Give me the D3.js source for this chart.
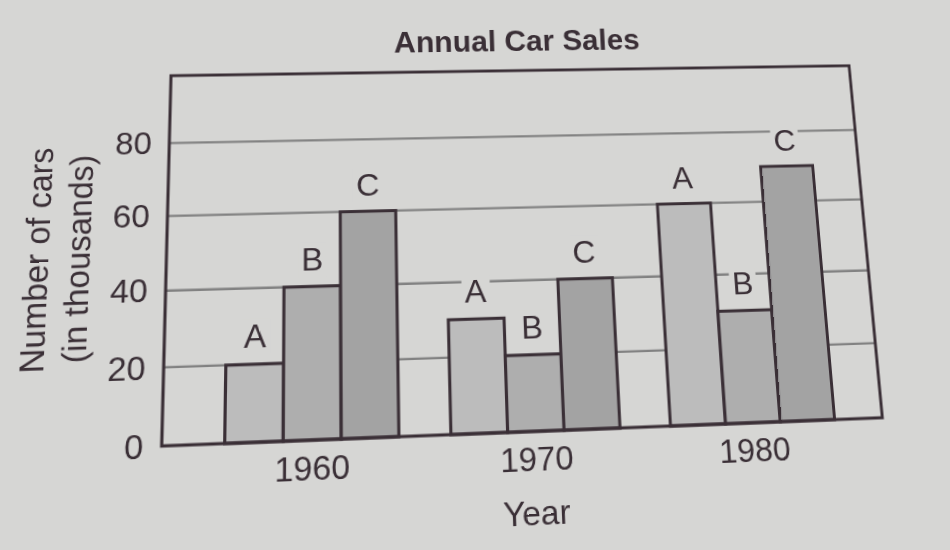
<!DOCTYPE html>
<html><head><meta charset="utf-8">
<script src="https://cdn.jsdelivr.net/npm/d3@7"></script>
<style>
html,body{margin:0;padding:0;background:#d6d6d4;width:950px;height:550px;overflow:hidden;}
#chart{position:absolute;left:0;top:0;transform-origin:0 0;}
</style></head><body>
<svg id="chart" width="950" height="550"></svg>
<script>
// ---- data ----
const years = ["1960", "1970", "1980"];
const seriesNames = ["A", "B", "C"];
const valuesA = [20, 30, 60];
const valuesB = [40, 20, 30];
const valuesC = [60, 40, 70];
const yTickValues = [0, 20, 40, 60, 80];
const gridValues = [20, 40, 60, 80];
const titleText = "Annual Car Sales";
const yLabelLine1 = "Number of cars";
const yLabelLine2 = "(in thousands)";
const xLabelText = "Year";

// ---- styles ----
const paper = "#d6d6d4";
const ink = "#3a2f36";
const barColors = {A: "#bcbcbc", B: "#aeaeae", C: "#a3a3a3"};
const font = "'Liberation Sans', Arial, Helvetica, sans-serif";

const frame = {left: 165, right: 865, top: 70, bottom: 432};

const svg = d3.select("#chart");
svg.append("rect").attr("x", -50).attr("y", -50).attr("width", 1050).attr("height", 650).attr("fill", paper);

const x0 = d3.scaleBand().domain(years)
  .range([frame.left + 58.5, frame.right - 48.5])
  .paddingInner(0.2326).paddingOuter(0);
const x1 = d3.scaleBand().domain(seriesNames).range([0, x0.bandwidth()]).padding(0);
const y = d3.scaleLinear().domain([0, 99]).range([frame.bottom, frame.top]);

const table = years.map((yr, i) => ({
  year: yr,
  bars: [
    {s: "A", v: valuesA[i]},
    {s: "B", v: valuesB[i]},
    {s: "C", v: valuesC[i]}
  ]
}));

// gridlines
svg.append("g").selectAll("line").data(gridValues).join("line")
  .attr("x1", frame.left).attr("x2", frame.right)
  .attr("y1", d => y(d)).attr("y2", d => y(d))
  .attr("stroke", "#828282").attr("stroke-width", 2.3);

// groups
const groups = svg.append("g").selectAll("g").data(table).join("g")
  .attr("transform", d => `translate(${x0(d.year)},0)`);

// bar labels with knockout
const labelG = groups.selectAll("g.lab").data(d => d.bars).join("g").attr("class", "lab");
labelG.append("rect").attr("class", "ko").attr("fill", paper);
labelG.append("text")
  .attr("x", d => x1(d.s) + x1.bandwidth() / 2)
  .attr("y", d => y(d.v) - 16)
  .attr("text-anchor", "middle")
  .attr("font-family", font).attr("font-size", 32).attr("fill", ink)
  .text(d => d.s);
labelG.each(function() {
  const t = d3.select(this).select("text").node().getBBox();
  d3.select(this).select("rect")
    .attr("x", t.x - 3).attr("y", t.y + 2).attr("width", t.width + 6).attr("height", t.height - 2);
});

// bars
groups.selectAll("rect.bar").data(d => d.bars).join("rect").attr("class", "bar")
  .attr("x", d => x1(d.s))
  .attr("y", d => y(d.v))
  .attr("width", x1.bandwidth())
  .attr("height", d => y(0) - y(d.v))
  .attr("fill", d => barColors[d.s])
  .attr("stroke", ink).attr("stroke-width", 3);

// frame
svg.append("rect")
  .attr("x", frame.left).attr("y", frame.top)
  .attr("width", frame.right - frame.left).attr("height", frame.bottom - frame.top)
  .attr("fill", "none").attr("stroke", ink).attr("stroke-width", 3);

// y axis tick labels
const yAxis = svg.append("g").attr("transform", `translate(${frame.left},0)`)
  .call(d3.axisLeft(y).tickValues(yTickValues).tickSize(0).tickPadding(17).tickFormat(d3.format("d")));
yAxis.select(".domain").remove();
yAxis.selectAll("text").attr("font-family", font).attr("font-size", 32).attr("fill", ink);

// x axis tick labels
const xAxis = svg.append("g").attr("transform", `translate(0,${frame.bottom})`)
  .call(d3.axisBottom(x0).tickSize(0).tickPadding(14));
xAxis.select(".domain").remove();
xAxis.selectAll("text").attr("font-family", font).attr("font-size", 32).attr("fill", ink);

// title
svg.append("text").attr("x", 516).attr("y", frame.top - 21)
  .attr("text-anchor", "middle").attr("font-family", font).attr("font-weight", "bold")
  .attr("font-size", 31).attr("fill", ink).text(titleText);

// axis titles
const midY = (frame.top + frame.bottom) / 2;
svg.append("text").attr("transform", `translate(${frame.left - 112},${midY}) rotate(-90)`)
  .attr("text-anchor", "middle").attr("font-family", font).attr("font-size", 32).attr("fill", ink)
  .text(yLabelLine1);
svg.append("text").attr("transform", `translate(${frame.left - 73},${midY}) rotate(-90)`)
  .attr("text-anchor", "middle").attr("font-family", font).attr("font-size", 32).attr("fill", ink)
  .text(yLabelLine2);
svg.append("text").attr("x", x0("1970") + x0.bandwidth() / 2 - 2).attr("y", frame.bottom + 87)
  .attr("text-anchor", "middle").attr("font-family", font).attr("font-size", 32).attr("fill", ink)
  .text(xLabelText);

// ---- photo perspective: map the flat frame corners onto the photographed ones ----
const flatCorners = [[frame.left, frame.top], [frame.right, frame.top], [frame.right, frame.bottom], [frame.left, frame.bottom]];
const photoCorners = [[171, 75.7], [849, 65.7], [882.3, 417.7], [161.7, 446]];
function homography(src, dst) {
  const A = [], b = [];
  for (let i = 0; i < 4; i++) {
    const [px, py] = src[i], [u, v] = dst[i];
    A.push([px, py, 1, 0, 0, 0, -u * px, -u * py]); b.push(u);
    A.push([0, 0, 0, px, py, 1, -v * px, -v * py]); b.push(v);
  }
  const n = 8;
  for (let i = 0; i < n; i++) {
    let p = i;
    for (let r = i + 1; r < n; r++) if (Math.abs(A[r][i]) > Math.abs(A[p][i])) p = r;
    [A[i], A[p]] = [A[p], A[i]]; [b[i], b[p]] = [b[p], b[i]];
    for (let r = i + 1; r < n; r++) {
      const f = A[r][i] / A[i][i];
      for (let c = i; c < n; c++) A[r][c] -= f * A[i][c];
      b[r] -= f * b[i];
    }
  }
  const h = new Array(n);
  for (let i = n - 1; i >= 0; i--) {
    let s = b[i];
    for (let c = i + 1; c < n; c++) s -= A[i][c] * h[c];
    h[i] = s / A[i][i];
  }
  return h;
}
const H = homography(flatCorners, photoCorners);
const m3d = [H[0], H[3], 0, H[6], H[1], H[4], 0, H[7], 0, 0, 1, 0, H[2], H[5], 0, 1];
document.getElementById("chart").style.transform = `matrix3d(${m3d.join(",")})`;
</script>
</body></html>
